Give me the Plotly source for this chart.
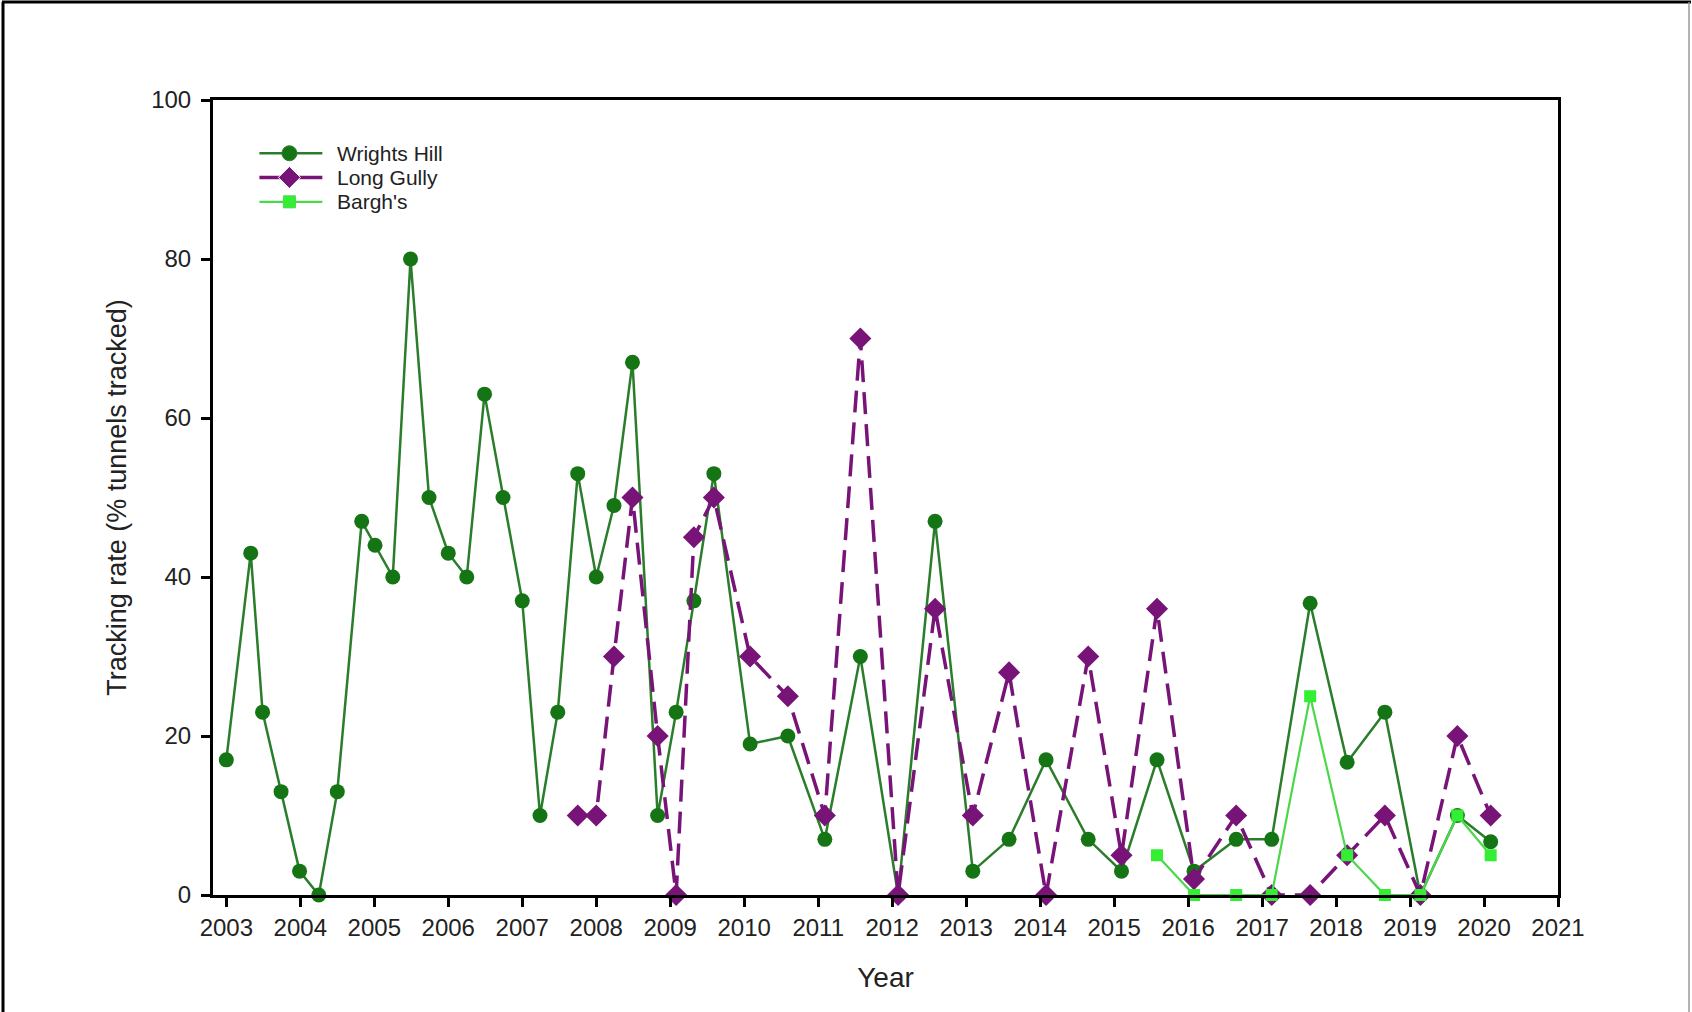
import plotly.graph_objects as go

# Sampling dates as decimal years
wh_x = [2003.00, 2003.33, 2003.49, 2003.74, 2003.99, 2004.25, 2004.50,
        2004.83, 2005.01, 2005.25, 2005.49, 2005.74, 2006.00, 2006.25,
        2006.49, 2006.74, 2007.00, 2007.24, 2007.48, 2007.75, 2008.00,
        2008.24, 2008.49, 2008.83, 2009.08, 2009.32, 2009.59,
        2010.08, 2010.59, 2011.09, 2011.57, 2012.08, 2012.58,
        2013.09, 2013.58, 2014.08, 2014.65, 2015.10, 2015.58,
        2016.08, 2016.65, 2017.13, 2017.65, 2018.15, 2018.66,
        2019.14, 2019.64, 2020.09]
wh_y = [17, 43, 23, 13, 3, 0, 13,
        47, 44, 40, 80, 50, 43, 40,
        63, 50, 37, 10, 23, 53, 40,
        49, 67, 10, 23, 37, 53,
        19, 20, 7, 30, 0, 47,
        3, 7, 17, 7, 3, 17,
        3, 7, 7, 36.7, 16.7, 23,
        0, 10, 6.7]

lg_x = [2007.75, 2008.00, 2008.24, 2008.49, 2008.83, 2009.08, 2009.32, 2009.59,
        2010.08, 2010.59, 2011.09, 2011.57, 2012.08, 2012.58,
        2013.09, 2013.58, 2014.08, 2014.65, 2015.10, 2015.58,
        2016.08, 2016.65, 2017.13, 2017.65, 2018.15, 2018.66,
        2019.14, 2019.64, 2020.09]
lg_y = [10, 10, 30, 50, 20, 0, 45, 50,
        30, 25, 10, 70, 0, 36,
        10, 28, 0, 30, 5, 36,
        2, 10, 0, 0, 5, 10,
        0, 20, 10]

bg_x = [2015.58, 2016.08, 2016.65, 2017.13, 2017.65, 2018.15, 2018.66,
        2019.14, 2019.64, 2020.09]
bg_y = [5, 0, 0, 0, 25, 5, 0, 0, 10, 5]

series_names = ["Wrights Hill", "Long Gully", "Bargh's"]
year_ticks = list(range(2003, 2022))
y_ticks = [0, 20, 40, 60, 80, 100]

FONT = "Liberation Sans, Arial, sans-serif"
styles = {
    "Wrights Hill": dict(line=dict(color="#2a7d2a", width=2.5),
                         marker=dict(symbol="circle", size=15, color="#157515", opacity=1)),
    "Long Gully": dict(line=dict(color="#781478", width=3.5, dash="22px,10px"),
                       marker=dict(symbol="diamond", size=17, color="#781478", opacity=1)),
    "Bargh's": dict(line=dict(color="#4ad84a", width=2.2),
                    marker=dict(symbol="square", size=12, color="#33ee33", opacity=1)),
}

fig = go.Figure()
for name, xs, ys in zip(series_names, [wh_x, lg_x, bg_x], [wh_y, lg_y, bg_y]):
    st = styles[name]
    fig.add_trace(go.Scatter(x=xs, y=ys, name=name, mode="lines+markers",
                             line=st["line"], marker=st["marker"],
                             cliponaxis=False, showlegend=False))

# Custom legend (glyphs on an overlay axis in 0..1 units)
leg_rows = [0.933, 0.9026, 0.8719]
for name, ly in zip(series_names, leg_rows):
    st = styles[name]
    ln = dict(st["line"])
    ln.pop("dash", None)
    mk = dict(st["marker"])
    mk["size"] = [0, mk["size"], 0]
    fig.add_trace(go.Scatter(x=[0.0345, 0.0568, 0.0813], y=[ly, ly, ly],
                             xaxis="x2", yaxis="y2", mode="lines+markers",
                             line=ln, marker=mk, showlegend=False,
                             hoverinfo="skip"))
    fig.add_annotation(x=0.0906, y=ly, xref="paper", yref="paper", text=name,
                       showarrow=False, xanchor="left", yanchor="middle",
                       font=dict(size=21, color="#222222"))

fig.update_layout(
    width=1692, height=1012,
    margin=dict(l=213, r=134, t=100, b=117),
    paper_bgcolor="white", plot_bgcolor="white",
    font=dict(family=FONT, size=24, color="#222222"),
    showlegend=False,
    xaxis=dict(range=[2002.82, 2021], tickvals=year_ticks,
               ticktext=[str(t) for t in year_ticks],
               showgrid=False, zeroline=False,
               showline=True, linecolor="black", linewidth=3, mirror=True,
               ticks="outside", ticklen=9, tickwidth=2.5, tickcolor="black",
               tickfont=dict(size=24),
               title=dict(text="Year", font=dict(size=28), standoff=28)),
    yaxis=dict(range=[0, 100], tickvals=y_ticks,
               showgrid=False, zeroline=False,
               showline=True, linecolor="black", linewidth=3, mirror=True,
               ticks="outside", ticklen=9, tickwidth=2.5, tickcolor="black",
               tickfont=dict(size=24), ticklabelstandoff=5,
               title=dict(text="Tracking rate (% tunnels tracked)",
                          font=dict(size=27), standoff=17)),
    xaxis2=dict(overlaying="x", range=[0, 1], visible=False, fixedrange=True),
    yaxis2=dict(overlaying="y", range=[0, 1], visible=False, fixedrange=True),
)

# Outer figure frame
pw = 1692 - 213 - 134
ph = 1012 - 100 - 117
fig.add_shape(type="line", xref="paper", yref="paper",
              x0=-211 / pw, x1=(1692 - 213 - 1) / pw, y0=1 + 98 / ph, y1=1 + 98 / ph,
              line=dict(color="black", width=3))
fig.add_shape(type="line", xref="paper", yref="paper",
              x0=-210 / pw, x1=-210 / pw, y0=1 + 98 / ph, y1=-117 / ph,
              line=dict(color="black", width=3))
fig.add_shape(type="line", xref="paper", yref="paper",
              x0=1 + 131 / pw, x1=1 + 131 / pw, y0=1 + 98 / ph, y1=-117 / ph,
              line=dict(color="#999999", width=1.5))

fig.write_html("out.html",
               config={"displayModeBar": False},
               post_script="document.body.style.margin='0';document.body.style.padding='0';document.body.style.overflow='hidden';")
